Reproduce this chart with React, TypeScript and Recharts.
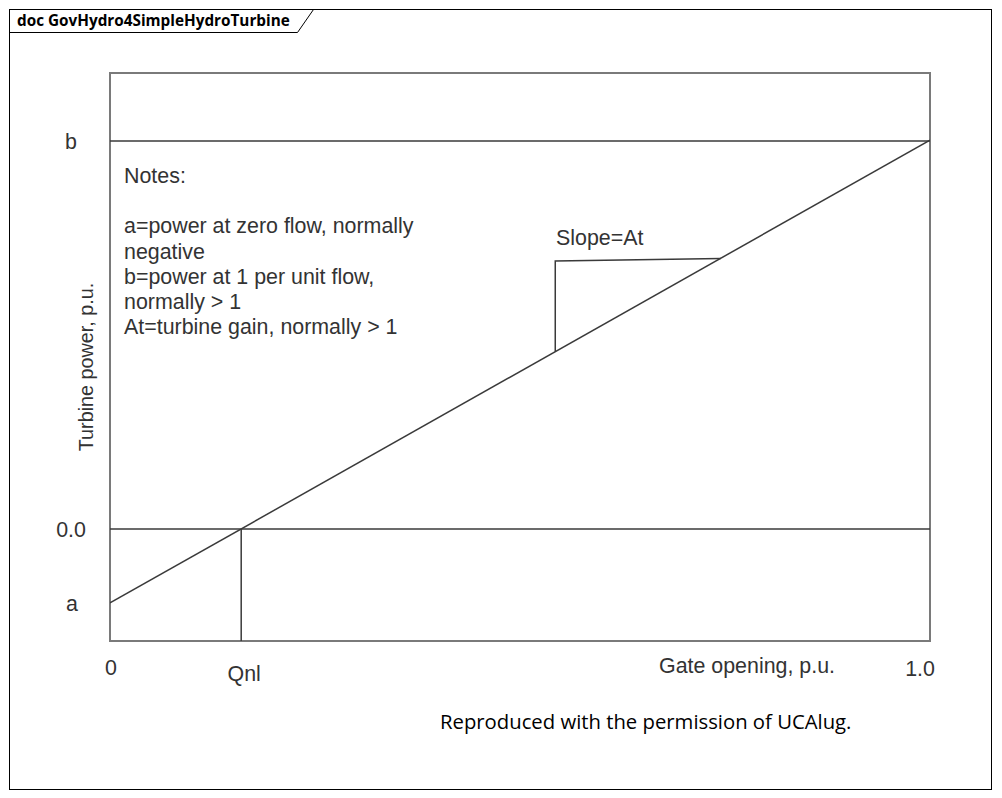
import React from 'react';
import { ComposedChart, Line, XAxis, YAxis, ReferenceLine, ReferenceArea } from 'recharts';

// values in per-unit
const Y_MIN = -0.318;
const Y_MAX = 1.293;
const A_VALUE = -0.21;
const B_VALUE = 1.1;
const QNL = 0.16;

const gateOpening = [0, 1.0];
const turbinePower = [-0.21, 1.1025];

const slopeX = [0.543, 0.543, 0.745];
const slopeY = [0.503, 0.76, 0.767];

const yTickValues = [A_VALUE, 0, B_VALUE];
const yTickLabels = ['a', '0.0', 'b'];
const xTickValues = [0, QNL, 1.0];
const xTickLabels = ['0', 'Qnl', '1.0'];

const notes = [
  'a=power at zero flow, normally',
  'negative',
  'b=power at 1 per unit flow,',
  'normally > 1',
  'At=turbine gain, normally > 1',
];

const chartFont = '"Liberation Sans", Arial, sans-serif';
const fontSize = 21.4;
const textColor = '#333';
const lineColor = '#3a3a3a';

const curveData = gateOpening.map((x, i) => ({ x, y: turbinePower[i] }));
const slopeData = slopeX.map((x, i) => ({ x, y: slopeY[i] }));

const XTick = (props: any) => {
  const { x, y, payload, index } = props;
  const dx = [1, 3, -10][index] ?? 0;
  const dy = [29, 35, 30][index] ?? 0;
  return (
    <text x={x + dx} y={y + dy - 10} textAnchor="middle" dominantBaseline="central"
      fontFamily={chartFont} fontSize={fontSize} fill={textColor}>
      {xTickLabels[xTickValues.indexOf(payload.value)]}
    </text>
  );
};

const YTick = (props: any) => {
  const { y, payload } = props;
  const label = yTickLabels[yTickValues.indexOf(payload.value)];
  return (
    <text x={71 + (label === 'a' ? 1 : 0)} y={y + 1} textAnchor="middle" dominantBaseline="central"
      fontFamily={chartFont} fontSize={fontSize} fill={textColor}>
      {label}
    </text>
  );
};

const App: React.FC = () => {
  return (
    <div style={{ position: 'absolute', left: 0, top: 0, width: 1002, height: 798, background: '#fff' }}>
      {/* frame */}
      <svg width={1002} height={798} style={{ position: 'absolute', left: 0, top: 0 }}>
        <rect x={9.5} y={9.5} width={982} height={780} fill="none" stroke="#000" strokeWidth={1} />
        <polyline points="9.5,32.5 297.5,32.5 313.5,9.5" fill="none" stroke="#000" strokeWidth={1} />
      </svg>
      <div style={{ position: 'absolute', left: 17, top: 10, fontFamily: '"Open Sans", sans-serif',
        fontWeight: 700, fontSize: 15.3, color: '#000', lineHeight: '20px' }}>
        doc GovHydro4SimpleHydroTurbine
      </div>

      <div style={{ position: 'absolute', left: 0, top: 0 }}>
        <ComposedChart width={1002} height={798} margin={{ top: 73, right: 72, bottom: 117, left: 50 }}>
          <XAxis type="number" dataKey="x" domain={[0, 1]} ticks={xTickValues} axisLine={false}
            tickLine={false} height={40} tick={<XTick />} allowDataOverflow />
          <YAxis type="number" dataKey="y" domain={[Y_MIN, Y_MAX]} ticks={yTickValues} axisLine={false}
            tickLine={false} width={60} tick={<YTick />} allowDataOverflow />
          <ReferenceArea x1={0} x2={1} y1={Y_MIN} y2={Y_MAX} fill="none" stroke="#7a7a7a" strokeWidth={2} />
          <ReferenceLine y={B_VALUE} stroke={lineColor} strokeWidth={1.5} />
          <ReferenceLine y={0} stroke={lineColor} strokeWidth={1.5} />
          <ReferenceLine segment={[{ x: QNL, y: Y_MIN }, { x: QNL, y: 0 }]} stroke={lineColor} strokeWidth={1.5} />
          <Line data={curveData} dataKey="y" type="linear" stroke={lineColor} strokeWidth={1.5}
            dot={false} isAnimationActive={false} />
          <Line data={slopeData} dataKey="y" type="linear" stroke={lineColor} strokeWidth={1.5}
            dot={false} isAnimationActive={false} />
        </ComposedChart>
      </div>

      {/* annotations */}
      <div style={{ position: 'absolute', left: 124, top: 164, fontFamily: chartFont, fontSize,
        color: textColor, lineHeight: '25.3px' }}>
        <div>Notes:</div>
        <div style={{ height: 25 }} />
        {notes.map((n) => <div key={n}>{n}</div>)}
      </div>
      <div style={{ position: 'absolute', left: 556, top: 226, fontFamily: chartFont, fontSize, color: textColor }}>
        Slope=At
      </div>
      <div style={{ position: 'absolute', left: 659, top: 654, fontFamily: chartFont, fontSize, color: textColor }}>
        Gate opening, p.u.
      </div>
      <div style={{ position: 'absolute', left: 86, top: 367, width: 0, height: 0 }}>
        <div style={{ position: 'absolute', transform: 'translate(-50%, -50%) rotate(-90deg)', whiteSpace: 'nowrap',
          fontFamily: chartFont, fontSize: 19.8, color: textColor }}>
          Turbine power, p.u.
        </div>
      </div>
      <div style={{ position: 'absolute', left: 440, top: 707, fontFamily: '"Open Sans", sans-serif', fontSize: 20.3,
        color: '#000', lineHeight: '28px' }}>
        Reproduced with the permission of UCAlug.
      </div>
    </div>
  );
};

export default App;
